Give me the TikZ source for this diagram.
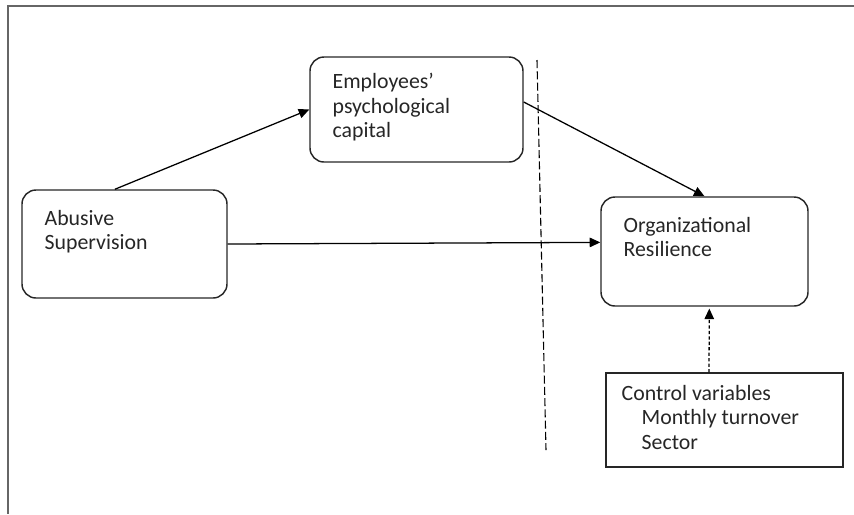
\documentclass[tikz,border=0pt]{standalone}
\usepackage{fontspec}
\setmainfont{Carlito}
\usetikzlibrary{positioning,arrows.meta}
\begin{document}
\begin{tikzpicture}[x=0.55pt,y=-0.55pt,
    bx/.style={draw=black!85,line width=0.8pt,rounded corners=7.7pt,inner sep=0pt},
    cbox/.style={draw=black!85,line width=0.8pt,inner sep=0pt},
    txt/.style={inner sep=0pt,align=left,text=black!85,font=\fontsize{12}{13.4}\selectfont},
    ar/.style={-{Triangle[length=5.8pt,width=5.2pt]},line width=0.7pt}]
    \useasboundingbox (0,0) rectangle (854,514);
    % frame
    \draw[black!60,line width=0.6pt] (854,6) -- (8,6) -- (8,514);

    \node[bx,minimum width=112.75pt,minimum height=59.4pt] (abuse) at (124.5,244) {};
    \node[bx,minimum width=117.15pt,minimum height=57.75pt] (emp) at (416.5,109.5) {};
    \node[bx,minimum width=113.85pt,minimum height=59.95pt] (org) at (704.5,251.5) {};
    \node[cbox,minimum width=130.35pt,minimum height=51.7pt] (ctrl) at (724.5,420) {};

    \node[txt,below right=11.2pt and 12.65pt of abuse.north west] (abusetxt) {Abusive\\Supervision};
    \node[txt,below right=9.3pt and 12.65pt of emp.north west] (emptxt) {Employees’\\psychological\\capital};
    \node[txt,below right=11.2pt and 12.65pt of org.north west] (orgtxt) {Organizational\\Resilience};
    \node[txt,below right=6.9pt and 8.8pt of ctrl.north west] (ctrltxt) {Control variables\\\hspace*{11pt}Monthly turnover\\\hspace*{11pt}Sector};

    % cut line
    \coordinate (cuttop) at (537,60);
    \coordinate (cutbot) at (546,450);
    \draw[dash pattern=on 4.4pt off 1.8pt,line width=0.6pt] (cuttop) -- (cutbot);

    \draw[ar] (abuse.100) -- (emp.west);
    \draw[ar] (emp.4) -- (org.north);
    \draw[ar] (abuse.east) -- (org.175);
    \draw[ar,dash pattern=on 1.8pt off 1.2pt,shorten >=1pt] (ctrl.108) -- (org.275);

\end{tikzpicture}
\end{document}
